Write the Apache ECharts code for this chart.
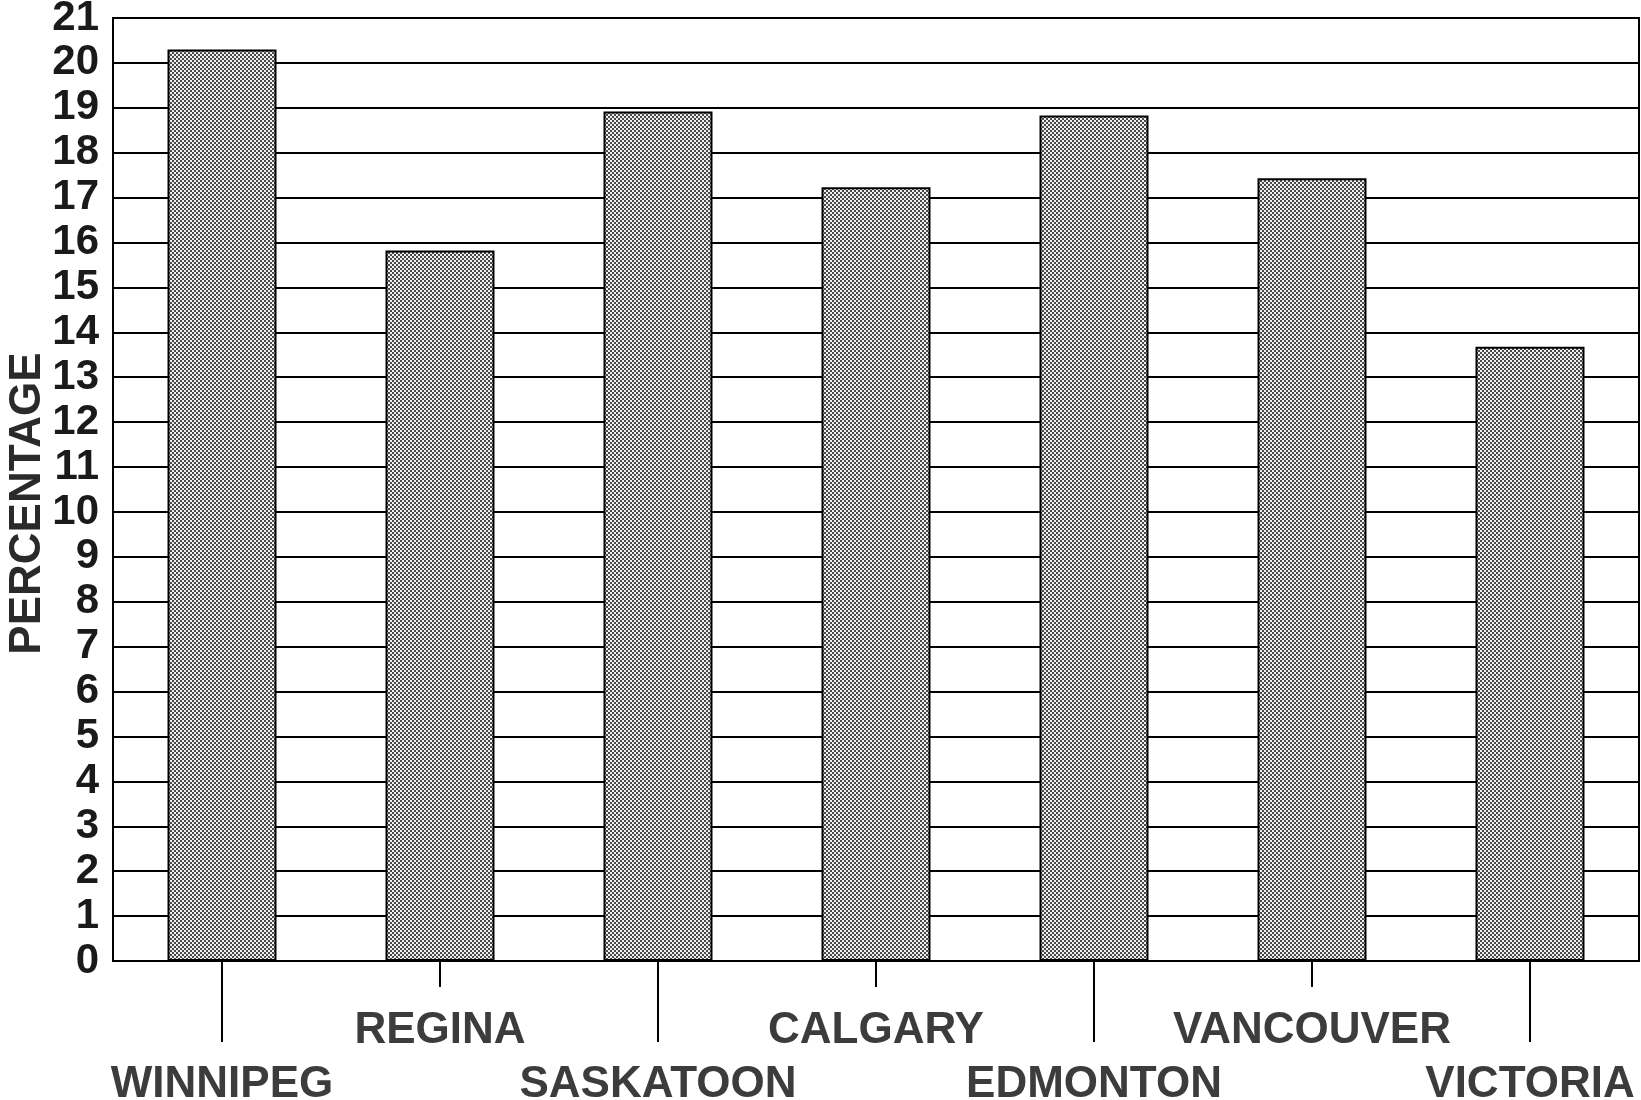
<!DOCTYPE html>
<html>
<head>
<meta charset="utf-8">
<script src="https://cdn.jsdelivr.net/npm/echarts@6/dist/echarts.min.js"></script>
<style>html,body{margin:0;padding:0;background:#fff}#c{width:1641px;height:1100px}</style>
</head>
<body>
<div id="c"></div>
<script>
const categories = ['WINNIPEG', 'REGINA', 'SASKATOON', 'CALGARY', 'EDMONTON', 'VANCOUVER', 'VICTORIA'];
const percentages = [20.3, 15.82, 18.92, 17.23, 18.83, 17.43, 13.68];
const yTicks = { min: 0, max: 21, interval: 1 };

const pc = document.createElement('canvas');
pc.width = 4; pc.height = 4;
const g = pc.getContext('2d');
g.fillStyle = '#efefef'; g.fillRect(0, 0, 4, 4);
g.fillStyle = '#4a4a4a';
g.fillRect(0, 0, 2, 2); g.fillRect(2, 2, 2, 2);

const font = '"Liberation Sans", Arial, sans-serif';
const chart = echarts.init(document.getElementById('c'));
chart.setOption({
  animation: false,
  backgroundColor: '#fff',
  grid: { left: 113, right: 2, top: 18, bottom: 139, outerBoundsMode: 'none', containLabel: false, show: true, borderColor: '#000', borderWidth: 2, backgroundColor: 'transparent' },
  xAxis: [
    {
      type: 'category', data: categories, position: 'bottom',
      axisLine: { show: true, lineStyle: { color: '#000', width: 2 } },
      axisTick: { show: true, alignWithLabel: true, length: 26, lineStyle: { color: '#000', width: 2 }, interval: (i) => i % 2 === 1 },
      axisLabel: { interval: (i) => i % 2 === 1, margin: 48, fontFamily: font, fontWeight: 'bold', fontSize: 44, color: '#3c3c3c' },
      splitLine: { show: false }
    },
    {
      type: 'category', data: categories, position: 'bottom',
      axisLine: { show: false },
      axisTick: { show: true, alignWithLabel: true, length: 81, lineStyle: { color: '#000', width: 2 }, interval: (i) => i % 2 === 0 },
      axisLabel: { interval: (i) => i % 2 === 0, margin: 102, fontFamily: font, fontWeight: 'bold', fontSize: 44, color: '#3c3c3c' },
      splitLine: { show: false }
    }
  ],
  yAxis: {
    type: 'value', min: yTicks.min, max: yTicks.max, interval: yTicks.interval,
    name: 'PERCENTAGE', nameLocation: 'middle', nameGap: 63, nameMoveOverlap: false,
    nameTextStyle: { fontFamily: font, fontWeight: 'bold', fontSize: 44, color: '#2a2a2a', padding: [0, 28, 0, 0] },
    axisLine: { show: true, lineStyle: { color: '#000', width: 2 } },
    axisTick: { show: false },
    axisLabel: { margin: 14, fontFamily: font, fontWeight: 'bold', fontSize: 42, color: '#1a1a1a' },
    splitLine: { show: true, lineStyle: { color: '#000', width: 2 } }
  },
  series: [{
    type: 'bar', data: percentages, barWidth: '50%', xAxisIndex: 0,
    itemStyle: { color: { image: pc, repeat: 'repeat' }, borderColor: '#000', borderWidth: 2 }
  }]
});
</script>
</body>
</html>
